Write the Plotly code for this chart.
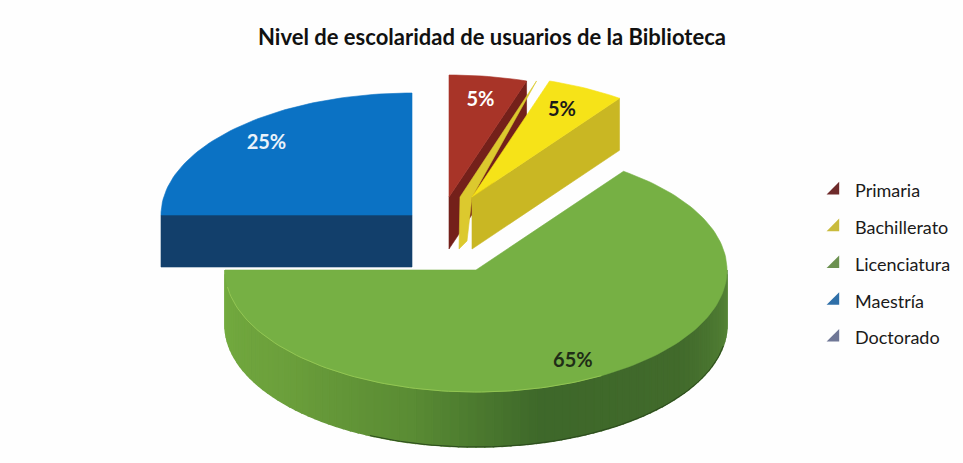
import math
import plotly.graph_objects as go

# ---- data ----
categories = ["Primaria", "Bachillerato", "Licenciatura", "Maestría", "Doctorado"]
values = [5, 5, 65, 25, 0]
title_text = "Nivel de escolaridad de usuarios de la Biblioteca"

# ---- style / layout ----
W, H = 963, 463
RX, RY, DEPTH = 251, 122, 52
GREEN_DEPTH = 55
origins = [(449, 197), (472, 197), (476, 270), (412, 215), (412, 215)]
top_colors = ["#a83428", "#f6e318", "#76b044", "#0b72c4", "#6f7796"]
wall_colors = ["#74201a", "#c9b723", None, "#123f6b", "#555"]
legend_colors = ["#6e2a2a", "#c9bb3c", "#6c9150", "#2f6fa8", "#6f7796"]
label_colors = ["white", "#1a1a1a", "#1f2d17", "#eaf2fa", "white"]
label_frac = [0.80, 0.79, 0.85, 0.82, 0.8]
FONT = "Lato, Open Sans, sans-serif"
green_wall_stops = [(90, (88, 136, 56)), (125, (66, 107, 44)), (165, (62, 104, 42)),
                    (195, (90, 140, 52)), (230, (108, 160, 60)), (270, (116, 172, 64))]


def pt(o, deg, r=1.0, dy=0.0):
    t = math.radians(deg)
    return o[0] + RX * r * math.sin(t), o[1] - RY * r * math.cos(t) + dy


def arc(o, a, b, dy=0.0):
    n = max(2, int(abs(b - a) / 1.5))
    return [pt(o, a + (b - a) * i / n, dy=dy) for i in range(n + 1)]


def poly(points, color, name=None, width=0.6):
    xs = [p[0] for p in points] + [points[0][0]]
    ys = [p[1] for p in points] + [points[0][1]]
    return go.Scatter(x=xs, y=ys, mode="lines", fill="toself", fillcolor=color,
                      line=dict(color=color, width=width), showlegend=False,
                      hoverinfo="skip", name=name)


def mix(deg):
    for (a, ca), (b, cb) in zip(green_wall_stops, green_wall_stops[1:]):
        if a <= deg <= b:
            f = (deg - a) / (b - a)
            return "rgb(%d,%d,%d)" % tuple(ca[i] + (cb[i] - ca[i]) * f for i in range(3))
    return "rgb(%d,%d,%d)" % green_wall_stops[-1][1]


total = sum(values)
start, spans = 0.0, []
for v in values:
    end = start + 360.0 * v / total
    spans.append((start, end))
    start = end

fig = go.Figure()
PRIM, BACH, LIC, MAE = 0, 1, 2, 3

# Primaria
o = origins[PRIM]; a, b = spans[PRIM]
fig.add_trace(poly([o, pt(o, b), pt(o, b, dy=DEPTH), (o[0], o[1] + DEPTH)], wall_colors[PRIM]))
fig.add_trace(poly([o] + arc(o, a, b), top_colors[PRIM], categories[PRIM]))

# Licenciatura: rounded wall built in strips, then top face
o = origins[LIC]; a, b = spans[LIC]
d = 90.0
while d < b:
    e = min(d + 2.0, b)
    fig.add_trace(poly(arc(o, d, e) + arc(o, e, d, dy=GREEN_DEPTH), mix((d + e) / 2), width=1.5))
    d = e
fig.add_trace(poly([o] + arc(o, a, b), top_colors[LIC], categories[LIC]))
rim = arc(o, 150, 262)
fig.add_trace(go.Scatter(x=[p[0] for p in rim], y=[p[1] for p in rim], mode="lines",
                         line=dict(color="#93c653", width=1), showlegend=False, hoverinfo="skip"))
low = arc(o, 100, 205, dy=GREEN_DEPTH)
fig.add_trace(go.Scatter(x=[p[0] for p in low], y=[p[1] for p in low], mode="lines",
                         line=dict(color="#2c4a1e", width=1), showlegend=False, hoverinfo="skip"))

# Maestría
o = origins[MAE]; a, b = spans[MAE]
fig.add_trace(poly([o, pt(o, a), pt(o, a, dy=DEPTH), (o[0], o[1] + DEPTH)], wall_colors[MAE]))
fig.add_trace(poly([o] + arc(o, a, b), top_colors[MAE], categories[MAE]))

# Bachillerato: inner sliver, front wall, top face
o = origins[BACH]; a, b = spans[BACH]
oa = pt(o, a)
fig.add_trace(poly([(oa[0] - 13, oa[1]), (o[0] - 12, o[1]), (o[0] - 13, o[1] + DEPTH),
                    (o[0] - 5, o[1] + DEPTH - 8), o], "#dcc92e"))
fig.add_trace(poly([o, pt(o, b), pt(o, b, dy=DEPTH), (o[0], o[1] + DEPTH)], wall_colors[BACH]))
fig.add_trace(poly([o] + arc(o, a, b), top_colors[BACH], categories[BACH]))

# percentage labels
for i, v in enumerate(values):
    if v <= 0:
        continue
    mid = sum(spans[i]) / 2
    x, y = pt(origins[i], mid, r=label_frac[i])
    fig.add_trace(go.Scatter(x=[x], y=[y], mode="text", text=[f"<b>{v}%</b>"], showlegend=False,
                             textposition="middle center", hoverinfo="skip",
                             textfont=dict(family=FONT, size=20, color=label_colors[i])))

# legend entries
for i, c in enumerate(categories):
    fig.add_trace(go.Scatter(x=[None], y=[None], mode="markers", name=c, legendgroup=c,
                             marker=dict(symbol="triangle-se", size=14, color=legend_colors[i])))

fig.update_layout(
    width=W, height=H, margin=dict(l=0, r=0, t=0, b=0, autoexpand=False), autosize=False,
    paper_bgcolor="#fefefe", plot_bgcolor="#fefefe", template=None,
    xaxis=dict(range=[0, W], visible=False, fixedrange=True, domain=[0, 1]),
    yaxis=dict(range=[H, 0], visible=False, fixedrange=True, domain=[0, 1]),
    title=dict(text=f"<b>{title_text}</b>", x=492 / W, xanchor="center", y=1 - 37 / H, yanchor="middle",
               font=dict(family=FONT, size=22, color="#111")),
    legend=dict(x=815 / W, xanchor="left", y=1 - 172 / H, yanchor="top", bgcolor="rgba(0,0,0,0)",
                font=dict(family=FONT, size=18, color="#1a1a1a"), tracegroupgap=10.4, itemwidth=30,
                itemclick=False, itemdoubleclick=False),
    showlegend=True,
)
fig.write_html("out.html", config={"displayModeBar": False},
               post_script="document.body.style.margin='0';")
